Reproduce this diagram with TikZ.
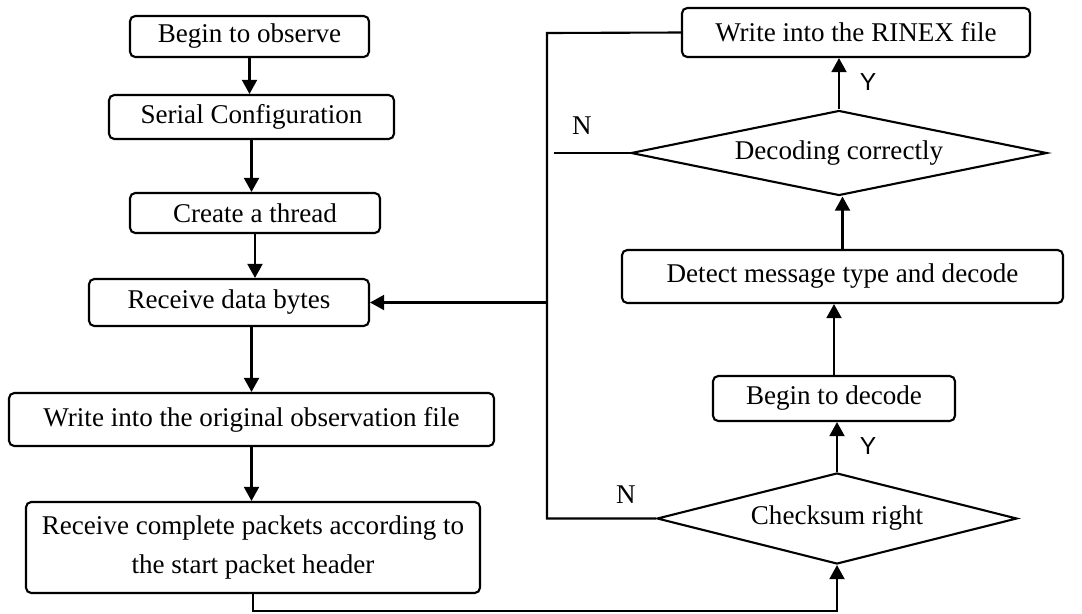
\documentclass[tikz,border=0pt]{standalone}
\usepackage{fontspec}
\setmainfont{Liberation Serif}
\newfontfamily\labelfont{Liberation Sans}
\usetikzlibrary{arrows.meta}
\usetikzlibrary{shapes.geometric}

\begin{document}
\begin{tikzpicture}[line width=1.2pt,font=\fontsize{15.4}{22.7}\selectfont,
  box/.style={shape=rectangle,draw,rounded corners=3pt,inner sep=0pt,align=center},
  dec/.style={shape=diamond,draw,aspect=5,inner sep=0pt},
  arr/.style={-{Triangle[length=8pt,width=8.5pt]}},
  yes/.style={font=\labelfont\fontsize{14}{16}\selectfont}]
\useasboundingbox (0,0) rectangle (21.64,-12.26);
% left column
\draw (4.99,-0.73) node (begin) [box,minimum width=4.78cm,minimum height=0.82cm] {Begin to observe};
\draw (5.03,-2.34) node (serial) [box,minimum width=5.70cm,minimum height=0.88cm] {Serial Configuration};
\draw (5.10,-4.26) node (thread) [box,minimum width=5.00cm,minimum height=0.80cm] {Create a thread};
\draw (4.58,-6.05) node (recv) [box,minimum width=5.60cm,minimum height=0.94cm] {Receive data bytes};
\draw (5.03,-8.39) node (orig) [box,minimum width=9.70cm,minimum height=1.06cm] {Write into the original observation file};
\draw (5.06,-10.95) node (pkt) [box,minimum width=9.08cm,minimum height=1.82cm] {Receive complete packets according to\\the start packet header};
\draw[arr] (begin.south) -- (begin.south |- serial.north);
\draw[arr] (serial.south) -- (serial.south |- thread.north);
\draw[arr] (thread.south) -- (thread.south |- recv.north);
\draw[arr] (orig.north |- recv.south) -- (orig.north);
\draw[arr] (orig.south) -- (orig.south |- pkt.north);
% right column
\draw (17.12,-0.65) node (rinex) [box,minimum width=6.96cm,minimum height=0.98cm] {Write into the RINEX file};
\draw (16.78,-3.06) node (dok) [dec,minimum width=8.32cm,minimum height=1.70cm] {Decoding correctly};
\draw (16.85,-5.53) node (detect) [box,minimum width=8.82cm,minimum height=1.06cm] {Detect message type and decode};
\draw (16.68,-7.97) node (bdec) [box,minimum width=4.84cm,minimum height=0.90cm] {Begin to decode};
\draw (16.74,-10.37) node (chk) [dec,minimum width=7.20cm,minimum height=1.82cm] {Checksum right};
\draw[arr] (chk.north) -- (chk.north |- bdec.south);
\draw[arr] (bdec.north) -- (bdec.north |- detect.south);
\draw[arr] (detect.north) -- (detect.north |- dok.south);
\draw[arr] (dok.north) -- (dok.north |- rinex.south);
% loops
\coordinate (ltop) at (10.94,-0.66);
\coordinate (nend) at (11.08,-3.06);
\coordinate (bot) at (16.74,-12.22);
\draw (rinex.west) -- (ltop) -- (ltop |- chk.west) -- (chk.west);
\draw[arr] (ltop |- recv.east) -- (recv.east);
\draw (dok.west) -- (nend);
\draw[arr] (pkt.south) |- (bot) -- (chk.south);
% labels
\draw (12.52,-9.90) node (nchk) {N};
\draw (11.64,-2.52) node (ndok) {N};
\draw (17.36,-8.92) node (ychk) [yes] {Y};
\draw (17.36,-1.64) node (ydok) [yes] {Y};
\end{tikzpicture}
\end{document}
